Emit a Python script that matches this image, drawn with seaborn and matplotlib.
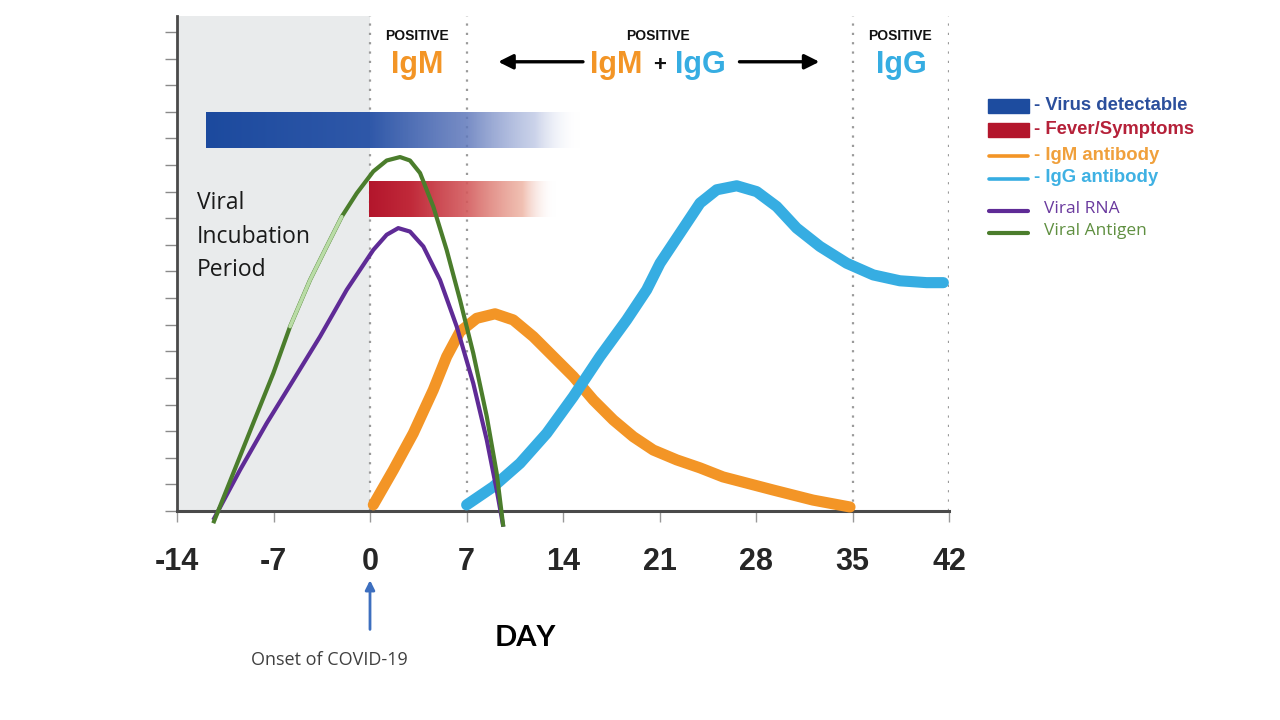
import numpy as np
import pandas as pd
import matplotlib
matplotlib.use("Agg")
import matplotlib.pyplot as plt
import seaborn as sns
from matplotlib.lines import Line2D
from matplotlib.patches import Rectangle
from matplotlib.colors import to_rgb

# ---------------- data ----------------
x_ticks = [-14, -7, 0, 7, 14, 21, 28, 35, 42]
x_tick_labels = ["-14", "-7", "0", "7", "14", "21", "28", "35", "42"]

igm_day = [0.24, 1.69, 3.14, 4.59, 5.56, 6.53, 7.74, 9.07, 10.39, 11.85, 13.30, 14.75,
           16.20, 17.65, 19.10, 20.55, 22.25, 23.94, 25.61, 29.23, 32.13, 34.82]
igm_val = [0.23, 1.54, 2.92, 4.55, 5.80, 6.74, 7.24, 7.41, 7.18, 6.55, 5.80, 5.05,
           4.17, 3.42, 2.79, 2.29, 1.92, 1.62, 1.28, 0.79, 0.41, 0.15]

igg_day = [7.01, 8.94, 10.88, 12.82, 14.75, 16.68, 18.62, 20.07, 21.04, 22.49, 23.94,
           25.15, 26.60, 28.05, 29.50, 30.95, 32.64, 34.58, 36.51, 38.44, 40.38, 41.59]
igg_val = [0.23, 0.91, 1.79, 2.92, 4.30, 5.80, 7.18, 8.31, 9.31, 10.44, 11.57,
           12.07, 12.22, 12.00, 11.44, 10.63, 9.94, 9.31, 8.87, 8.65, 8.58, 8.58]

rna_day = [-11.37, -9.43, -7.49, -5.56, -3.63, -1.69, 0.24, 1.21, 2.05, 2.90, 3.87,
           5.08, 6.29, 7.49, 8.47, 9.19, 9.67]
rna_val = [-0.34, 1.54, 3.30, 4.92, 6.55, 8.31, 9.81, 10.38, 10.63, 10.50, 9.94,
           8.68, 6.93, 4.80, 2.67, 0.79, -0.59]

ag_day = [-11.37, -9.92, -8.47, -7.01, -5.80, -4.35, -3.14, -2.05, -0.96, 0.24, 1.21,
          2.18, 2.90, 3.63, 4.59, 5.56, 6.53, 7.49, 8.47, 9.19, 9.67]
ag_val = [-0.46, 1.42, 3.30, 5.18, 6.93, 8.68, 9.94, 11.06, 11.94, 12.76, 13.17,
          13.30, 13.17, 12.70, 11.44, 9.81, 7.93, 5.93, 3.55, 1.42, -0.59]
ag_faded = (-5.80, -2.05)          # segment that looks washed out in the reference

virus_bar = (-11.9, 15.3, 13.65, 15.0)     # x0, x1, y0, y1
fever_bar = (-0.1, 13.4, 11.05, 12.37)
dotted_days = [0, 7, 35, 42]

# ---------------- style ----------------
sns.set_theme(style="white")
plt.rcParams["font.family"] = ["DejaVu Sans"]
BOLD = ["Liberation Sans", "DejaVu Sans"]
SOFT = ["Open Sans", "DejaVu Sans"]
SOFTB = ["Lato", "DejaVu Sans"]

ORANGE = "#f39526"
SKY = "#36ade2"
PURPLE = "#5f2b96"
GREEN = "#4b7d2c"
BLUE = "#1d4c9f"
RED = "#b3162c"

fig = plt.figure(figsize=(12.8, 7.2), dpi=100)
ax = fig.add_axes([177 / 1280, 1 - 537.6 / 720, (949 - 177) / 1280, (537.6 - 16) / 720])

# grey incubation area
ax.fill_between([-14, 0], 0, 18.6, color="#e9ebec", lw=0, zorder=0)

# dotted vertical guides
for d in dotted_days:
    ax.plot([d, d], [0, 18.6], ls=(0, (1, 3.2)), color="#9a9a9a", lw=1.6, zorder=1)


def gradient_bar(ax, box, stops, zorder):
    x0, x1, y0, y1 = box
    n = 400
    xs = np.linspace(x0, x1, n)
    pos = [s[0] for s in stops]
    cols = np.array([list(to_rgb(s[1])) + [s[2]] for s in stops])
    rgba = np.zeros((1, n, 4))
    for k in range(4):
        rgba[0, :, k] = np.interp(xs, pos, cols[:, k])
    ax.imshow(rgba, extent=[x0, x1, y0, y1], aspect="auto",
              interpolation="bilinear", zorder=zorder)


gradient_bar(ax, virus_bar,
             [(-11.9, "#1c4a9e", 1.0), (0.0, "#2f58a9", 1.0), (7.0, "#5f78bb", 0.85),
              (12.0, "#8c9dd0", 0.45), (15.3, "#ffffff", 0.0)], zorder=2)
gradient_bar(ax, fever_bar,
             [(-0.1, "#b3162c", 1.0), (3.0, "#c12a3a", 1.0), (7.0, "#d35a5c", 0.9),
              (11.0, "#e7967f", 0.6), (13.4, "#ffffff", 0.0)], zorder=2)

# curves
thick = dict(sort=False, solid_capstyle="round", solid_joinstyle="round", zorder=3)
thin = dict(sort=False, solid_capstyle="butt", solid_joinstyle="round", zorder=4)
sns.lineplot(x=igm_day, y=igm_val, ax=ax, color=ORANGE, lw=8, **thick)
sns.lineplot(x=igg_day, y=igg_val, ax=ax, color=SKY, lw=8, **thick)
sns.lineplot(x=rna_day, y=rna_val, ax=ax, color=PURPLE, lw=3, **thin)
sns.lineplot(x=ag_day, y=ag_val, ax=ax, color=GREEN, lw=3, **thin)
fa_day = [d for d in ag_day if ag_faded[0] <= d <= ag_faded[1]]
fa_val = [v for d, v in zip(ag_day, ag_val) if ag_faded[0] <= d <= ag_faded[1]]
sns.lineplot(x=fa_day, y=fa_val, ax=ax, color="#b9dca6", lw=2.6, sort=False, zorder=5)

ax.set_xlim(-14, 42)
ax.set_ylim(-1, 18.6)

# axes look
for s in ["top", "right"]:
    ax.spines[s].set_visible(False)
ax.spines["left"].set_bounds(0, 18.6)
ax.spines["left"].set_color("#4a4a4a")
ax.spines["left"].set_linewidth(2)
ax.spines["bottom"].set_position(("data", 0))
ax.spines["bottom"].set_color("#4a4a4a")
ax.spines["bottom"].set_linewidth(2.2)
ax.set_yticks(range(0, 19))
ax.set_yticklabels([])
ax.set_xticks(x_ticks)
ax.set_xticklabels(x_tick_labels, fontsize=22, fontweight="bold", family=BOLD)
ax.tick_params(axis="y", left=True, length=9, width=1, color="#8a8a8a", direction="out")
ax.tick_params(axis="x", bottom=True, length=8, width=1, color="#999999",
               direction="out", pad=18)
ax.grid(False)
ax.set_facecolor("none")

# header annotations
def hdr(x, txt, color, y=16.75, size=22):
    ax.text(x, y, txt, ha="center", va="center", fontsize=size, fontweight="bold",
            color=color, family=BOLD, zorder=6)

for xc in (3.4, 20.9, 38.45):
    hdr(xc, "POSITIVE", "#111111", y=17.86, size=10)
hdr(3.4, "IgM", ORANGE)
hdr(17.85, "IgM", ORANGE)
hdr(21.04, "+", "#111111", size=16)
hdr(24.0, "IgG", SKY)
hdr(38.52, "IgG", SKY)
arrow_kw = dict(arrowstyle="-|>", lw=2.4, color="black", mutation_scale=22,
                shrinkA=0, shrinkB=0)
ax.annotate("", xy=(9.3, 16.88), xytext=(15.45, 16.88), arrowprops=arrow_kw)
ax.annotate("", xy=(32.6, 16.88), xytext=(26.8, 16.88), arrowprops=arrow_kw)

# incubation label
for y, t in [(11.58, "Viral"), (10.30, "Incubation"), (9.06, "Period")]:
    ax.text(-12.55, y, t, ha="left", va="center", fontsize=16.5, color="#1a1a1a",
            family=SOFT, zorder=6)

# onset arrow + labels
ax.annotate("", xy=(0, -2.6), xytext=(0, -4.45), annotation_clip=False,
            arrowprops=dict(arrowstyle="-|>", lw=2, color="#3d6fbf",
                            mutation_scale=14, shrinkA=0, shrinkB=0))
fig.text(329 / 1280, 1 - 660 / 720, "Onset of COVID-19", ha="center", va="center",
         fontsize=13, color="#404040", family=SOFT)
fig.text(525 / 1280, 1 - 638 / 720, "DAY", ha="center", va="center",
         fontsize=21, fontweight="bold", color="black", family=SOFTB)

# legend (drawn on the figure)
def px(x, y):
    return x / 1280, 1 - y / 720

leg_items = [
    ("rect", BLUE, "- Virus detectable", "#2b4f9c", True, 106),
    ("rect", RED, "- Fever/Symptoms", "#b52139", True, 130),
    ("line", ORANGE, "- IgM antibody", "#f0a03c", True, 155),
    ("line", SKY, "- IgG antibody", "#3fb1e3", True, 178),
    ("line", PURPLE, "Viral RNA", "#6a3a9e", False, 209),
    ("line", GREEN, "Viral Antigen", "#5f8f40", False, 231),
]
for kind, col, label, tcol, bold, yy in leg_items:
    if kind == "rect":
        x0, y0 = px(988, yy + 7)
        fig.patches.append(Rectangle((x0, y0), 41 / 1280, 14 / 720, color=col,
                                     transform=fig.transFigure, figure=fig))
    else:
        ly = yy + (2 if not bold else 1)
        xa, ya = px(989, ly)
        xb, _ = px(1028, ly)
        fig.add_artist(Line2D([xa, xb], [ya, ya], color=col, lw=2.6 if bold else 3,
                              transform=fig.transFigure))
    tx, ty = px(1034 if bold else 1044, yy)
    fig.text(tx, ty, label, ha="left", va="center", color=tcol,
             fontsize=13.3 if bold else 12.5, fontweight="bold" if bold else "normal",
             family=BOLD if bold else SOFT)

fig.savefig("out.png", dpi=100, facecolor="white")
